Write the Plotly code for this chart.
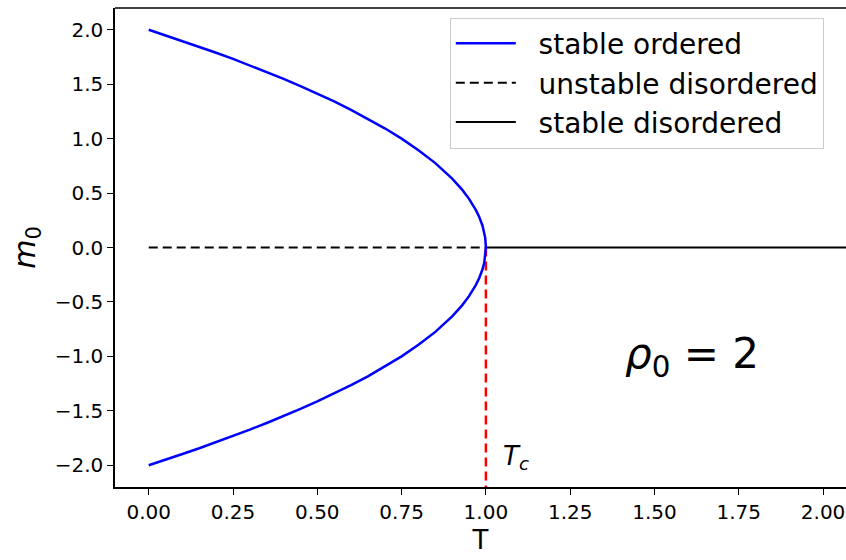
import plotly.graph_objects as go

# Data
T_ordered = [0.0, 0.05, 0.1, 0.15, 0.2, 0.25, 0.3, 0.35, 0.4, 0.45, 0.5, 0.55, 0.6, 0.65,
             0.7, 0.75, 0.8, 0.85, 0.9, 0.93, 0.95, 0.97, 0.98, 0.99, 0.995, 0.998, 1.0]
m_upper = [2.000, 1.949, 1.897, 1.844, 1.789, 1.732, 1.673, 1.612, 1.549, 1.483, 1.414, 1.342,
           1.265, 1.183, 1.095, 1.000, 0.894, 0.775, 0.632, 0.529, 0.447, 0.346, 0.283, 0.200,
           0.141, 0.089, 0.0]
m_lower = [-2.000, -1.949, -1.897, -1.844, -1.789, -1.732, -1.673, -1.612, -1.549, -1.483, -1.414,
           -1.342, -1.265, -1.183, -1.095, -1.000, -0.894, -0.775, -0.632, -0.529, -0.447, -0.346,
           -0.283, -0.200, -0.141, -0.089, 0.0]

T_unstable = [0.0, 1.0]
m_unstable = [0.0, 0.0]
T_stable_dis = [1.0, 2.1]
m_stable_dis = [0.0, 0.0]
T_c_line = [1.0, 1.0]
m_c_line = [0.0, -2.2]

x_ticks = [0.0, 0.25, 0.5, 0.75, 1.0, 1.25, 1.5, 1.75, 2.0]
x_tick_text = ["0.00", "0.25", "0.50", "0.75", "1.00", "1.25", "1.50", "1.75", "2.00"]
y_ticks = [2.0, 1.5, 1.0, 0.5, 0.0, -0.5, -1.0, -1.5, -2.0]
y_tick_text = ["2.0", "1.5", "1.0", "0.5", "0.0", "\u22120.5", "\u22121.0", "\u22121.5", "\u22122.0"]

curve_T = T_ordered + T_ordered[::-1][1:]
curve_m = m_upper + m_lower[::-1][1:]

GAP = "\u00a0\u00a0"

fig = go.Figure()
fig.add_trace(go.Scatter(x=T_unstable, y=m_unstable, mode="lines",
                         line=dict(color="black", width=2, dash="9px,5px"),
                         name=GAP + "unstable disordered", legendrank=2, legendgroup="b"))
fig.add_trace(go.Scatter(x=T_stable_dis, y=m_stable_dis, mode="lines",
                         line=dict(color="black", width=2),
                         name=GAP + "stable disordered", legendrank=3, legendgroup="c"))
fig.add_trace(go.Scatter(x=T_c_line, y=m_c_line, mode="lines",
                         line=dict(color="red", width=2.5, dash="9px,5px"),
                         showlegend=False))
fig.add_trace(go.Scatter(x=curve_T, y=curve_m, mode="lines",
                         line=dict(color="blue", width=2.5),
                         name=GAP + "stable ordered", legendrank=1, legendgroup="a"))

fig.add_annotation(x=1.045, y=-1.93, xref="x", yref="y", text="<i>T<sub>c</sub></i>",
                   showarrow=False, xanchor="left", yanchor="middle",
                   font=dict(family="DejaVu Sans", size=26, color="black"))
fig.add_annotation(x=1.61, y=-1.0, xref="x", yref="y", text="<i>ρ</i><sub>0</sub> = 2",
                   showarrow=False, xanchor="center", yanchor="middle",
                   font=dict(family="DejaVu Sans", size=42, color="black"))

# top border
fig.add_shape(type="line", xref="paper", yref="paper", x0=0, x1=1, y0=1, y1=1,
              line=dict(color="black", width=1.5))

fig.update_layout(
    width=846, height=560,
    margin=dict(l=115, r=0, t=8, b=73),
    plot_bgcolor="white", paper_bgcolor="white",
    font=dict(family="DejaVu Sans", size=20, color="black"),
    showlegend=True,
    legend=dict(x=0.458, y=0.98, xanchor="left", yanchor="top",
                bgcolor="white", bordercolor="#cccccc", borderwidth=1,
                font=dict(size=28), tracegroupgap=11, traceorder="normal",
                itemwidth=60),
    xaxis=dict(range=[-0.1, 2.068], tickvals=x_ticks, ticktext=x_tick_text,
               showgrid=False, zeroline=False, showline=True, linecolor="black",
               linewidth=1.5, ticks="outside", ticklen=6, tickwidth=1.2,
               tickcolor="black", tickfont=dict(size=20),
               title=dict(text="T", font=dict(size=26), standoff=8)),
    yaxis=dict(range=[-2.2, 2.2], tickvals=y_ticks, ticktext=y_tick_text,
               showgrid=False, zeroline=False, showline=True, linecolor="black",
               linewidth=1.5, ticks="outside", ticklen=6, tickwidth=1.2,
               tickcolor="black", tickfont=dict(size=20),
               title=dict(text="<i>m</i><sub>0</sub>", font=dict(size=30), standoff=10)),
)

fig.write_html("out.html")
